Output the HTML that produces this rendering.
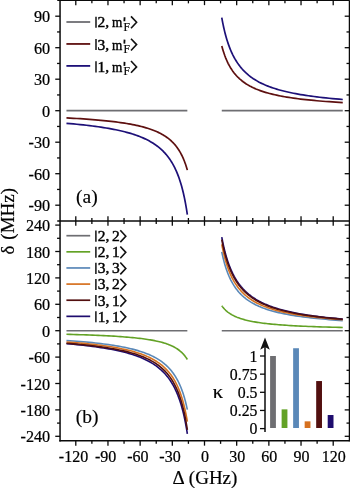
<!DOCTYPE html>
<html><head><meta charset="utf-8"><title>chart</title>
<style>html,body{margin:0;padding:0;background:#fff;}body{width:350px;height:488px;overflow:hidden;font-family:"Liberation Serif",serif;}svg{will-change:transform;}</style>
</head><body>
<svg width="350" height="488" viewBox="0 0 350 488" style="display:block">
<rect width="350" height="488" fill="#fff"/>
<path d="M66.46,110.70 L187.34,110.70 M221.77,110.70 L342.76,110.70" stroke="#6e6e72" stroke-width="1.70" fill="none"/>
<path d="M66.46,117.90 L70.01,118.09 L73.47,118.29 L76.84,118.49 L80.12,118.70 L83.32,118.91 L86.44,119.13 L89.48,119.35 L92.43,119.58 L95.32,119.82 L98.13,120.06 L100.86,120.31 L103.53,120.56 L106.13,120.82 L108.66,121.09 L111.12,121.37 L113.52,121.65 L115.86,121.94 L118.14,122.24 L120.37,122.55 L122.53,122.86 L124.64,123.18 L126.69,123.51 L128.70,123.86 L130.65,124.21 L132.55,124.56 L134.40,124.93 L136.20,125.31 L137.96,125.70 L139.67,126.10 L141.34,126.51 L142.96,126.93 L144.54,127.36 L146.09,127.81 L147.59,128.26 L149.05,128.73 L150.48,129.21 L151.87,129.70 L153.22,130.21 L154.54,130.73 L155.83,131.26 L157.08,131.81 L158.30,132.38 L159.49,132.95 L160.65,133.55 L161.77,134.16 L162.87,134.79 L163.94,135.43 L164.99,136.09 L166.00,136.77 L166.99,137.47 L167.96,138.18 L168.90,138.92 L169.81,139.67 L170.71,140.45 L171.58,141.25 L172.42,142.07 L173.25,142.91 L174.05,143.77 L174.84,144.66 L175.60,145.57 L176.34,146.51 L177.07,147.47 L177.77,148.46 L178.46,149.48 L179.13,150.52 L179.78,151.59 L180.42,152.70 L181.04,153.83 L181.64,154.99 L182.23,156.19 L182.80,157.42 L183.36,158.68 L183.90,159.98 L184.43,161.31 L184.95,162.68 L185.45,164.09 L185.94,165.54 L186.42,167.03 L186.89,168.56 L187.34,170.13" fill="none" stroke="#5e1010" stroke-width="1.70" stroke-linecap="butt" stroke-linejoin="round"/>
<path d="M221.77,45.91 L222.22,47.58 L222.69,49.20 L223.17,50.77 L223.66,52.31 L224.17,53.81 L224.68,55.27 L225.22,56.69 L225.76,58.08 L226.32,59.43 L226.90,60.74 L227.49,62.02 L228.09,63.27 L228.71,64.49 L229.35,65.68 L230.01,66.83 L230.68,67.96 L231.37,69.05 L232.08,70.12 L232.80,71.16 L233.55,72.18 L234.31,73.17 L235.10,74.13 L235.91,75.07 L236.73,75.98 L237.58,76.87 L238.45,77.74 L239.35,78.59 L240.27,79.41 L241.21,80.21 L242.17,81.00 L243.17,81.76 L244.19,82.50 L245.23,83.22 L246.30,83.93 L247.41,84.62 L248.54,85.29 L249.70,85.94 L250.89,86.57 L252.11,87.19 L253.36,87.80 L254.65,88.38 L255.97,88.96 L257.33,89.51 L258.72,90.06 L260.15,90.59 L261.61,91.10 L263.12,91.61 L264.66,92.10 L266.25,92.57 L267.87,93.04 L269.54,93.49 L271.26,93.93 L273.01,94.36 L274.82,94.78 L276.67,95.19 L278.57,95.59 L280.52,95.98 L282.53,96.36 L284.58,96.72 L286.69,97.08 L288.86,97.43 L291.08,97.77 L293.36,98.10 L295.70,98.43 L298.10,98.74 L300.57,99.05 L303.10,99.35 L305.70,99.64 L308.37,99.92 L311.10,100.20 L313.91,100.47 L316.79,100.73 L319.75,100.99 L322.79,101.24 L325.90,101.48 L329.10,101.72 L332.38,101.95 L335.75,102.17 L339.21,102.39 L342.76,102.60" fill="none" stroke="#5e1010" stroke-width="1.70" stroke-linecap="butt" stroke-linejoin="round"/>
<path d="M66.46,123.30 L70.01,123.60 L73.47,123.92 L76.84,124.24 L80.12,124.57 L83.32,124.91 L86.44,125.25 L89.48,125.61 L92.43,125.98 L95.32,126.36 L98.13,126.74 L100.86,127.14 L103.53,127.55 L106.13,127.97 L108.66,128.40 L111.12,128.85 L113.52,129.30 L115.86,129.77 L118.14,130.26 L120.37,130.75 L122.53,131.26 L124.64,131.78 L126.69,132.32 L128.70,132.87 L130.65,133.44 L132.55,134.03 L134.40,134.63 L136.20,135.25 L137.96,135.88 L139.67,136.53 L141.34,137.21 L142.96,137.90 L144.54,138.61 L146.09,139.34 L147.59,140.09 L149.05,140.86 L150.48,141.65 L151.87,142.47 L153.22,143.31 L154.54,144.18 L155.83,145.07 L157.08,145.98 L158.30,146.92 L159.49,147.89 L160.65,148.89 L161.77,149.92 L162.87,150.97 L163.94,152.06 L164.99,153.18 L166.00,154.33 L166.99,155.52 L167.96,156.74 L168.90,158.00 L169.81,159.30 L170.71,160.63 L171.58,162.00 L172.42,163.42 L173.25,164.88 L174.05,166.38 L174.84,167.93 L175.60,169.53 L176.34,171.17 L177.07,172.87 L177.77,174.62 L178.46,176.42 L179.13,178.28 L179.78,180.20 L180.42,182.18 L181.04,184.22 L181.64,186.32 L182.23,188.50 L182.80,190.74 L183.36,193.06 L183.90,195.45 L184.43,197.91 L184.95,200.46 L185.45,203.10 L185.94,205.82 L186.42,208.63 L186.89,211.54 L187.34,214.55" fill="none" stroke="#1d1078" stroke-width="1.70" stroke-linecap="butt" stroke-linejoin="round"/>
<path d="M221.77,17.67 L222.22,20.16 L222.69,22.57 L223.17,24.92 L223.66,27.21 L224.17,29.43 L224.68,31.59 L225.22,33.70 L225.76,35.74 L226.32,37.73 L226.90,39.66 L227.49,41.54 L228.09,43.37 L228.71,45.15 L229.35,46.88 L230.01,48.57 L230.68,50.21 L231.37,51.80 L232.08,53.35 L232.80,54.86 L233.55,56.33 L234.31,57.76 L235.10,59.15 L235.91,60.50 L236.73,61.82 L237.58,63.10 L238.45,64.35 L239.35,65.56 L240.27,66.75 L241.21,67.90 L242.17,69.02 L243.17,70.11 L244.19,71.17 L245.23,72.20 L246.30,73.20 L247.41,74.18 L248.54,75.14 L249.70,76.06 L250.89,76.97 L252.11,77.84 L253.36,78.70 L254.65,79.53 L255.97,80.34 L257.33,81.13 L258.72,81.90 L260.15,82.65 L261.61,83.38 L263.12,84.09 L264.66,84.78 L266.25,85.45 L267.87,86.11 L269.54,86.75 L271.26,87.37 L273.01,87.97 L274.82,88.56 L276.67,89.14 L278.57,89.70 L280.52,90.24 L282.53,90.77 L284.58,91.29 L286.69,91.79 L288.86,92.28 L291.08,92.75 L293.36,93.22 L295.70,93.67 L298.10,94.11 L300.57,94.54 L303.10,94.96 L305.70,95.37 L308.37,95.76 L311.10,96.15 L313.91,96.52 L316.79,96.89 L319.75,97.25 L322.79,97.59 L325.90,97.93 L329.10,98.26 L332.38,98.58 L335.75,98.90 L339.21,99.20 L342.76,99.50" fill="none" stroke="#1d1078" stroke-width="1.70" stroke-linecap="butt" stroke-linejoin="round"/>
<path d="M66.46,330.70 L187.34,330.70 M221.77,330.70 L342.76,330.70" stroke="#6e6e72" stroke-width="1.60" fill="none"/>
<path d="M66.46,334.31 L70.01,334.40 L73.47,334.50 L76.84,334.60 L80.12,334.70 L83.32,334.81 L86.44,334.92 L89.48,335.03 L92.43,335.14 L95.32,335.26 L98.13,335.38 L100.86,335.50 L103.53,335.63 L106.13,335.76 L108.66,335.89 L111.12,336.03 L113.52,336.17 L115.86,336.32 L118.14,336.46 L120.37,336.62 L122.53,336.77 L124.64,336.93 L126.69,337.10 L128.70,337.26 L130.65,337.44 L132.55,337.62 L134.40,337.80 L136.20,337.98 L137.96,338.18 L139.67,338.37 L141.34,338.58 L142.96,338.78 L144.54,339.00 L146.09,339.21 L147.59,339.44 L149.05,339.67 L150.48,339.91 L151.87,340.15 L153.22,340.40 L154.54,340.65 L155.83,340.91 L157.08,341.18 L158.30,341.46 L159.49,341.74 L160.65,342.03 L161.77,342.33 L162.87,342.64 L163.94,342.95 L164.99,343.27 L166.00,343.60 L166.99,343.94 L167.96,344.29 L168.90,344.65 L169.81,345.02 L170.71,345.39 L171.58,345.78 L172.42,346.18 L173.25,346.58 L174.05,347.00 L174.84,347.43 L175.60,347.87 L176.34,348.32 L177.07,348.78 L177.77,349.26 L178.46,349.74 L179.13,350.25 L179.78,350.76 L180.42,351.28 L181.04,351.83 L181.64,352.38 L182.23,352.95 L182.80,353.53 L183.36,354.13 L183.90,354.75 L184.43,355.38 L184.95,356.02 L185.45,356.69 L185.94,357.37 L186.42,358.07 L186.89,358.78 L187.34,359.52" fill="none" stroke="#63a226" stroke-width="1.60" stroke-linecap="butt" stroke-linejoin="round"/>
<path d="M221.77,305.75 L222.22,306.37 L222.69,306.98 L223.17,307.56 L223.66,308.14 L224.17,308.70 L224.68,309.25 L225.22,309.78 L225.76,310.31 L226.32,310.82 L226.90,311.31 L227.49,311.80 L228.09,312.27 L228.71,312.73 L229.35,313.18 L230.01,313.62 L230.68,314.05 L231.37,314.47 L232.08,314.88 L232.80,315.27 L233.55,315.66 L234.31,316.04 L235.10,316.41 L235.91,316.77 L236.73,317.12 L237.58,317.46 L238.45,317.79 L239.35,318.12 L240.27,318.44 L241.21,318.75 L242.17,319.05 L243.17,319.34 L244.19,319.63 L245.23,319.91 L246.30,320.18 L247.41,320.45 L248.54,320.71 L249.70,320.96 L250.89,321.21 L252.11,321.45 L253.36,321.68 L254.65,321.91 L255.97,322.14 L257.33,322.35 L258.72,322.56 L260.15,322.77 L261.61,322.97 L263.12,323.17 L264.66,323.36 L266.25,323.55 L267.87,323.73 L269.54,323.91 L271.26,324.08 L273.01,324.25 L274.82,324.41 L276.67,324.57 L278.57,324.73 L280.52,324.88 L282.53,325.03 L284.58,325.17 L286.69,325.31 L288.86,325.45 L291.08,325.58 L293.36,325.71 L295.70,325.84 L298.10,325.97 L300.57,326.09 L303.10,326.20 L305.70,326.32 L308.37,326.43 L311.10,326.54 L313.91,326.65 L316.79,326.75 L319.75,326.85 L322.79,326.95 L325.90,327.04 L329.10,327.14 L332.38,327.23 L335.75,327.32 L339.21,327.40 L342.76,327.49" fill="none" stroke="#63a226" stroke-width="1.60" stroke-linecap="butt" stroke-linejoin="round"/>
<path d="M66.46,340.47 L70.01,340.72 L73.47,340.97 L76.84,341.23 L80.12,341.50 L83.32,341.78 L86.44,342.06 L89.48,342.35 L92.43,342.65 L95.32,342.96 L98.13,343.27 L100.86,343.59 L103.53,343.93 L106.13,344.27 L108.66,344.62 L111.12,344.98 L113.52,345.34 L115.86,345.72 L118.14,346.11 L120.37,346.51 L122.53,346.92 L124.64,347.34 L126.69,347.78 L128.70,348.22 L130.65,348.68 L132.55,349.15 L134.40,349.63 L136.20,350.12 L137.96,350.63 L139.67,351.15 L141.34,351.69 L142.96,352.24 L144.54,352.81 L146.09,353.39 L147.59,353.98 L149.05,354.60 L150.48,355.22 L151.87,355.87 L153.22,356.54 L154.54,357.22 L155.83,357.92 L157.08,358.64 L158.30,359.38 L159.49,360.14 L160.65,360.92 L161.77,361.72 L162.87,362.55 L163.94,363.40 L164.99,364.27 L166.00,365.16 L166.99,366.08 L167.96,367.03 L168.90,368.00 L169.81,368.99 L170.71,370.02 L171.58,371.07 L172.42,372.16 L173.25,373.27 L174.05,374.42 L174.84,375.59 L175.60,376.80 L176.34,378.05 L177.07,379.32 L177.77,380.64 L178.46,381.99 L179.13,383.38 L179.78,384.81 L180.42,386.28 L181.04,387.79 L181.64,389.34 L182.23,390.94 L182.80,392.59 L183.36,394.28 L183.90,396.02 L184.43,397.80 L184.95,399.65 L185.45,401.54 L185.94,403.49 L186.42,405.49 L186.89,407.56 L187.34,409.68" fill="none" stroke="#5a88b8" stroke-width="1.60" stroke-linecap="butt" stroke-linejoin="round"/>
<path d="M221.77,251.94 L222.22,254.10 L222.69,256.19 L223.17,258.21 L223.66,260.18 L224.17,262.10 L224.68,263.95 L225.22,265.75 L225.76,267.50 L226.32,269.20 L226.90,270.85 L227.49,272.45 L228.09,274.00 L228.71,275.51 L229.35,276.98 L230.01,278.40 L230.68,279.79 L231.37,281.13 L232.08,282.44 L232.80,283.71 L233.55,284.95 L234.31,286.15 L235.10,287.31 L235.91,288.45 L236.73,289.55 L237.58,290.62 L238.45,291.66 L239.35,292.68 L240.27,293.66 L241.21,294.62 L242.17,295.55 L243.17,296.46 L244.19,297.34 L245.23,298.19 L246.30,299.03 L247.41,299.84 L248.54,300.63 L249.70,301.39 L250.89,302.14 L252.11,302.86 L253.36,303.57 L254.65,304.26 L255.97,304.93 L257.33,305.58 L258.72,306.21 L260.15,306.82 L261.61,307.42 L263.12,308.01 L264.66,308.57 L266.25,309.13 L267.87,309.66 L269.54,310.19 L271.26,310.70 L273.01,311.19 L274.82,311.67 L276.67,312.14 L278.57,312.60 L280.52,313.04 L282.53,313.48 L284.58,313.90 L286.69,314.31 L288.86,314.71 L291.08,315.10 L293.36,315.48 L295.70,315.84 L298.10,316.20 L300.57,316.55 L303.10,316.89 L305.70,317.22 L308.37,317.55 L311.10,317.86 L313.91,318.17 L316.79,318.46 L319.75,318.75 L322.79,319.04 L325.90,319.31 L329.10,319.58 L332.38,319.84 L335.75,320.09 L339.21,320.34 L342.76,320.58" fill="none" stroke="#5a88b8" stroke-width="1.60" stroke-linecap="butt" stroke-linejoin="round"/>
<path d="M66.46,341.96 L70.01,342.23 L73.47,342.50 L76.84,342.78 L80.12,343.07 L83.32,343.37 L86.44,343.67 L89.48,343.98 L92.43,344.31 L95.32,344.64 L98.13,344.97 L100.86,345.32 L103.53,345.68 L106.13,346.05 L108.66,346.43 L111.12,346.81 L113.52,347.21 L115.86,347.62 L118.14,348.05 L120.37,348.48 L122.53,348.92 L124.64,349.38 L126.69,349.85 L128.70,350.34 L130.65,350.83 L132.55,351.34 L134.40,351.87 L136.20,352.41 L137.96,352.96 L139.67,353.53 L141.34,354.12 L142.96,354.72 L144.54,355.34 L146.09,355.98 L147.59,356.64 L149.05,357.31 L150.48,358.01 L151.87,358.72 L153.22,359.46 L154.54,360.21 L155.83,360.99 L157.08,361.79 L158.30,362.61 L159.49,363.46 L160.65,364.33 L161.77,365.22 L162.87,366.15 L163.94,367.10 L164.99,368.07 L166.00,369.08 L166.99,370.12 L167.96,371.18 L168.90,372.28 L169.81,373.41 L170.71,374.58 L171.58,375.78 L172.42,377.01 L173.25,378.29 L174.05,379.60 L174.84,380.95 L175.60,382.34 L176.34,383.78 L177.07,385.26 L177.77,386.78 L178.46,388.35 L179.13,389.97 L179.78,391.65 L180.42,393.37 L181.04,395.15 L181.64,396.98 L182.23,398.88 L182.80,400.83 L183.36,402.85 L183.90,404.93 L184.43,407.08 L184.95,409.30 L185.45,411.60 L185.94,413.97 L186.42,416.41 L186.89,418.94 L187.34,421.56" fill="none" stroke="#d6711f" stroke-width="1.60" stroke-linecap="butt" stroke-linejoin="round"/>
<path d="M221.77,244.28 L222.22,246.65 L222.69,248.94 L223.17,251.17 L223.66,253.33 L224.17,255.43 L224.68,257.47 L225.22,259.44 L225.76,261.36 L226.32,263.23 L226.90,265.04 L227.49,266.80 L228.09,268.50 L228.71,270.16 L229.35,271.77 L230.01,273.34 L230.68,274.86 L231.37,276.34 L232.08,277.78 L232.80,279.17 L233.55,280.53 L234.31,281.85 L235.10,283.13 L235.91,284.37 L236.73,285.58 L237.58,286.76 L238.45,287.91 L239.35,289.02 L240.27,290.10 L241.21,291.16 L242.17,292.18 L243.17,293.17 L244.19,294.14 L245.23,295.08 L246.30,296.00 L247.41,296.89 L248.54,297.76 L249.70,298.60 L250.89,299.42 L252.11,300.22 L253.36,300.99 L254.65,301.75 L255.97,302.48 L257.33,303.20 L258.72,303.89 L260.15,304.57 L261.61,305.23 L263.12,305.87 L264.66,306.50 L266.25,307.10 L267.87,307.69 L269.54,308.27 L271.26,308.83 L273.01,309.37 L274.82,309.90 L276.67,310.42 L278.57,310.92 L280.52,311.41 L282.53,311.89 L284.58,312.35 L286.69,312.80 L288.86,313.24 L291.08,313.67 L293.36,314.09 L295.70,314.49 L298.10,314.89 L300.57,315.27 L303.10,315.64 L305.70,316.01 L308.37,316.36 L311.10,316.71 L313.91,317.04 L316.79,317.37 L319.75,317.69 L322.79,318.00 L325.90,318.30 L329.10,318.60 L332.38,318.88 L335.75,319.16 L339.21,319.44 L342.76,319.70" fill="none" stroke="#d6711f" stroke-width="1.60" stroke-linecap="butt" stroke-linejoin="round"/>
<path d="M66.46,343.68 L70.01,343.99 L73.47,344.31 L76.84,344.63 L80.12,344.97 L83.32,345.31 L86.44,345.67 L89.48,346.03 L92.43,346.40 L95.32,346.79 L98.13,347.18 L100.86,347.59 L103.53,348.00 L106.13,348.43 L108.66,348.87 L111.12,349.32 L113.52,349.78 L115.86,350.26 L118.14,350.75 L120.37,351.25 L122.53,351.76 L124.64,352.29 L126.69,352.84 L128.70,353.40 L130.65,353.97 L132.55,354.57 L134.40,355.17 L136.20,355.80 L137.96,356.44 L139.67,357.10 L141.34,357.78 L142.96,358.47 L144.54,359.19 L146.09,359.92 L147.59,360.68 L149.05,361.46 L150.48,362.26 L151.87,363.08 L153.22,363.92 L154.54,364.79 L155.83,365.69 L157.08,366.61 L158.30,367.55 L159.49,368.52 L160.65,369.52 L161.77,370.55 L162.87,371.60 L163.94,372.69 L164.99,373.81 L166.00,374.96 L166.99,376.14 L167.96,377.36 L168.90,378.61 L169.81,379.90 L170.71,381.23 L171.58,382.60 L172.42,384.00 L173.25,385.45 L174.05,386.94 L174.84,388.47 L175.60,390.05 L176.34,391.67 L177.07,393.34 L177.77,395.07 L178.46,396.84 L179.13,398.67 L179.78,400.55 L180.42,402.49 L181.04,404.49 L181.64,406.55 L182.23,408.67 L182.80,410.86 L183.36,413.11 L183.90,415.44 L184.43,417.83 L184.95,420.31 L185.45,422.85 L185.94,425.48 L186.42,428.19 L186.89,430.99 L187.34,433.88" fill="none" stroke="#1e0c6e" stroke-width="1.60" stroke-linecap="butt" stroke-linejoin="round"/>
<path d="M221.77,237.11 L222.22,239.52 L222.69,241.87 L223.17,244.15 L223.66,246.38 L224.17,248.55 L224.68,250.66 L225.22,252.72 L225.76,254.73 L226.32,256.68 L226.90,258.59 L227.49,260.44 L228.09,262.25 L228.71,264.01 L229.35,265.73 L230.01,267.40 L230.68,269.03 L231.37,270.61 L232.08,272.16 L232.80,273.66 L233.55,275.13 L234.31,276.56 L235.10,277.95 L235.91,279.30 L236.73,280.63 L237.58,281.91 L238.45,283.17 L239.35,284.39 L240.27,285.58 L241.21,286.74 L242.17,287.87 L243.17,288.97 L244.19,290.04 L245.23,291.09 L246.30,292.11 L247.41,293.10 L248.54,294.06 L249.70,295.00 L250.89,295.92 L252.11,296.82 L253.36,297.69 L254.65,298.53 L255.97,299.36 L257.33,300.17 L258.72,300.95 L260.15,301.71 L261.61,302.46 L263.12,303.18 L264.66,303.89 L266.25,304.58 L267.87,305.25 L269.54,305.90 L271.26,306.54 L273.01,307.16 L274.82,307.77 L276.67,308.36 L278.57,308.93 L280.52,309.49 L282.53,310.03 L284.58,310.56 L286.69,311.08 L288.86,311.59 L291.08,312.08 L293.36,312.55 L295.70,313.02 L298.10,313.47 L300.57,313.92 L303.10,314.35 L305.70,314.77 L308.37,315.18 L311.10,315.58 L313.91,315.96 L316.79,316.34 L319.75,316.71 L322.79,317.07 L325.90,317.42 L329.10,317.76 L332.38,318.09 L335.75,318.42 L339.21,318.73 L342.76,319.04" fill="none" stroke="#1e0c6e" stroke-width="1.60" stroke-linecap="butt" stroke-linejoin="round"/>
<path d="M66.46,343.28 L70.01,343.56 L73.47,343.85 L76.84,344.15 L80.12,344.45 L83.32,344.77 L86.44,345.09 L89.48,345.42 L92.43,345.76 L95.32,346.11 L98.13,346.47 L100.86,346.84 L103.53,347.22 L106.13,347.61 L108.66,348.01 L111.12,348.42 L113.52,348.84 L115.86,349.28 L118.14,349.72 L120.37,350.18 L122.53,350.65 L124.64,351.14 L126.69,351.64 L128.70,352.15 L130.65,352.68 L132.55,353.23 L134.40,353.78 L136.20,354.36 L137.96,354.95 L139.67,355.56 L141.34,356.18 L142.96,356.83 L144.54,357.49 L146.09,358.17 L147.59,358.87 L149.05,359.59 L150.48,360.33 L151.87,361.10 L153.22,361.88 L154.54,362.69 L155.83,363.52 L157.08,364.38 L158.30,365.26 L159.49,366.17 L160.65,367.10 L161.77,368.07 L162.87,369.06 L163.94,370.08 L164.99,371.13 L166.00,372.22 L166.99,373.33 L167.96,374.49 L168.90,375.67 L169.81,376.89 L170.71,378.15 L171.58,379.45 L172.42,380.79 L173.25,382.17 L174.05,383.60 L174.84,385.07 L175.60,386.58 L176.34,388.15 L177.07,389.76 L177.77,391.42 L178.46,393.14 L179.13,394.92 L179.78,396.75 L180.42,398.64 L181.04,400.59 L181.64,402.61 L182.23,404.70 L182.80,406.86 L183.36,409.08 L183.90,411.39 L184.43,413.77 L184.95,416.24 L185.45,418.79 L185.94,421.43 L186.42,424.16 L186.89,426.99 L187.34,429.92" fill="none" stroke="#520f0f" stroke-width="1.60" stroke-linecap="butt" stroke-linejoin="round"/>
<path d="M221.77,239.62 L222.22,241.97 L222.69,244.26 L223.17,246.50 L223.66,248.67 L224.17,250.79 L224.68,252.85 L225.22,254.86 L225.76,256.81 L226.32,258.72 L226.90,260.57 L227.49,262.38 L228.09,264.14 L228.71,265.85 L229.35,267.52 L230.01,269.15 L230.68,270.73 L231.37,272.28 L232.08,273.78 L232.80,275.24 L233.55,276.67 L234.31,278.06 L235.10,279.41 L235.91,280.73 L236.73,282.02 L237.58,283.27 L238.45,284.48 L239.35,285.67 L240.27,286.83 L241.21,287.95 L242.17,289.05 L243.17,290.12 L244.19,291.16 L245.23,292.17 L246.30,293.16 L247.41,294.12 L248.54,295.06 L249.70,295.98 L250.89,296.87 L252.11,297.73 L253.36,298.58 L254.65,299.40 L255.97,300.20 L257.33,300.98 L258.72,301.74 L260.15,302.48 L261.61,303.20 L263.12,303.91 L264.66,304.59 L266.25,305.26 L267.87,305.91 L269.54,306.54 L271.26,307.16 L273.01,307.76 L274.82,308.35 L276.67,308.92 L278.57,309.47 L280.52,310.02 L282.53,310.54 L284.58,311.06 L286.69,311.56 L288.86,312.05 L291.08,312.52 L293.36,312.98 L295.70,313.44 L298.10,313.87 L300.57,314.30 L303.10,314.72 L305.70,315.13 L308.37,315.52 L311.10,315.91 L313.91,316.28 L316.79,316.65 L319.75,317.01 L322.79,317.35 L325.90,317.69 L329.10,318.02 L332.38,318.34 L335.75,318.66 L339.21,318.96 L342.76,319.26" fill="none" stroke="#520f0f" stroke-width="1.60" stroke-linecap="butt" stroke-linejoin="round"/>
<line x1="60.05" y1="0.35" x2="60.05" y2="441.60" stroke="#0a0a0a" stroke-width="1.50"/>
<line x1="349.50" y1="0.35" x2="349.50" y2="441.60" stroke="#0a0a0a" stroke-width="1.50"/>
<line x1="57.25" y1="0.35" x2="349.50" y2="0.35" stroke="#0a0a0a" stroke-width="1.50"/>
<line x1="57.25" y1="221.00" x2="349.50" y2="221.00" stroke="#0a0a0a" stroke-width="1.50"/>
<line x1="59.30" y1="440.85" x2="349.50" y2="440.85" stroke="#0a0a0a" stroke-width="1.50"/>
<line x1="75.79" y1="0.35" x2="75.79" y2="5.15" stroke="#0a0a0a" stroke-width="1.30"/>
<line x1="75.79" y1="216.20" x2="75.79" y2="225.80" stroke="#0a0a0a" stroke-width="1.30"/>
<line x1="75.79" y1="440.85" x2="75.79" y2="445.65" stroke="#0a0a0a" stroke-width="1.30"/>
<line x1="91.88" y1="0.35" x2="91.88" y2="3.35" stroke="#0a0a0a" stroke-width="1.30"/>
<line x1="91.88" y1="218.00" x2="91.88" y2="224.00" stroke="#0a0a0a" stroke-width="1.30"/>
<line x1="91.88" y1="440.85" x2="91.88" y2="443.85" stroke="#0a0a0a" stroke-width="1.30"/>
<line x1="107.97" y1="0.35" x2="107.97" y2="5.15" stroke="#0a0a0a" stroke-width="1.30"/>
<line x1="107.97" y1="216.20" x2="107.97" y2="225.80" stroke="#0a0a0a" stroke-width="1.30"/>
<line x1="107.97" y1="440.85" x2="107.97" y2="445.65" stroke="#0a0a0a" stroke-width="1.30"/>
<line x1="124.06" y1="0.35" x2="124.06" y2="3.35" stroke="#0a0a0a" stroke-width="1.30"/>
<line x1="124.06" y1="218.00" x2="124.06" y2="224.00" stroke="#0a0a0a" stroke-width="1.30"/>
<line x1="124.06" y1="440.85" x2="124.06" y2="443.85" stroke="#0a0a0a" stroke-width="1.30"/>
<line x1="140.14" y1="0.35" x2="140.14" y2="5.15" stroke="#0a0a0a" stroke-width="1.30"/>
<line x1="140.14" y1="216.20" x2="140.14" y2="225.80" stroke="#0a0a0a" stroke-width="1.30"/>
<line x1="140.14" y1="440.85" x2="140.14" y2="445.65" stroke="#0a0a0a" stroke-width="1.30"/>
<line x1="156.23" y1="0.35" x2="156.23" y2="3.35" stroke="#0a0a0a" stroke-width="1.30"/>
<line x1="156.23" y1="218.00" x2="156.23" y2="224.00" stroke="#0a0a0a" stroke-width="1.30"/>
<line x1="156.23" y1="440.85" x2="156.23" y2="443.85" stroke="#0a0a0a" stroke-width="1.30"/>
<line x1="172.32" y1="0.35" x2="172.32" y2="5.15" stroke="#0a0a0a" stroke-width="1.30"/>
<line x1="172.32" y1="216.20" x2="172.32" y2="225.80" stroke="#0a0a0a" stroke-width="1.30"/>
<line x1="172.32" y1="440.85" x2="172.32" y2="445.65" stroke="#0a0a0a" stroke-width="1.30"/>
<line x1="188.41" y1="0.35" x2="188.41" y2="3.35" stroke="#0a0a0a" stroke-width="1.30"/>
<line x1="188.41" y1="218.00" x2="188.41" y2="224.00" stroke="#0a0a0a" stroke-width="1.30"/>
<line x1="188.41" y1="440.85" x2="188.41" y2="443.85" stroke="#0a0a0a" stroke-width="1.30"/>
<line x1="204.50" y1="0.35" x2="204.50" y2="5.15" stroke="#0a0a0a" stroke-width="1.30"/>
<line x1="204.50" y1="216.20" x2="204.50" y2="225.80" stroke="#0a0a0a" stroke-width="1.30"/>
<line x1="204.50" y1="440.85" x2="204.50" y2="445.65" stroke="#0a0a0a" stroke-width="1.30"/>
<line x1="220.59" y1="0.35" x2="220.59" y2="3.35" stroke="#0a0a0a" stroke-width="1.30"/>
<line x1="220.59" y1="218.00" x2="220.59" y2="224.00" stroke="#0a0a0a" stroke-width="1.30"/>
<line x1="220.59" y1="440.85" x2="220.59" y2="443.85" stroke="#0a0a0a" stroke-width="1.30"/>
<line x1="236.68" y1="0.35" x2="236.68" y2="5.15" stroke="#0a0a0a" stroke-width="1.30"/>
<line x1="236.68" y1="216.20" x2="236.68" y2="225.80" stroke="#0a0a0a" stroke-width="1.30"/>
<line x1="236.68" y1="440.85" x2="236.68" y2="445.65" stroke="#0a0a0a" stroke-width="1.30"/>
<line x1="252.77" y1="0.35" x2="252.77" y2="3.35" stroke="#0a0a0a" stroke-width="1.30"/>
<line x1="252.77" y1="218.00" x2="252.77" y2="224.00" stroke="#0a0a0a" stroke-width="1.30"/>
<line x1="252.77" y1="440.85" x2="252.77" y2="443.85" stroke="#0a0a0a" stroke-width="1.30"/>
<line x1="268.86" y1="0.35" x2="268.86" y2="5.15" stroke="#0a0a0a" stroke-width="1.30"/>
<line x1="268.86" y1="216.20" x2="268.86" y2="225.80" stroke="#0a0a0a" stroke-width="1.30"/>
<line x1="268.86" y1="440.85" x2="268.86" y2="445.65" stroke="#0a0a0a" stroke-width="1.30"/>
<line x1="284.94" y1="0.35" x2="284.94" y2="3.35" stroke="#0a0a0a" stroke-width="1.30"/>
<line x1="284.94" y1="218.00" x2="284.94" y2="224.00" stroke="#0a0a0a" stroke-width="1.30"/>
<line x1="284.94" y1="440.85" x2="284.94" y2="443.85" stroke="#0a0a0a" stroke-width="1.30"/>
<line x1="301.03" y1="0.35" x2="301.03" y2="5.15" stroke="#0a0a0a" stroke-width="1.30"/>
<line x1="301.03" y1="216.20" x2="301.03" y2="225.80" stroke="#0a0a0a" stroke-width="1.30"/>
<line x1="301.03" y1="440.85" x2="301.03" y2="445.65" stroke="#0a0a0a" stroke-width="1.30"/>
<line x1="317.12" y1="0.35" x2="317.12" y2="3.35" stroke="#0a0a0a" stroke-width="1.30"/>
<line x1="317.12" y1="218.00" x2="317.12" y2="224.00" stroke="#0a0a0a" stroke-width="1.30"/>
<line x1="317.12" y1="440.85" x2="317.12" y2="443.85" stroke="#0a0a0a" stroke-width="1.30"/>
<line x1="333.21" y1="0.35" x2="333.21" y2="5.15" stroke="#0a0a0a" stroke-width="1.30"/>
<line x1="333.21" y1="216.20" x2="333.21" y2="225.80" stroke="#0a0a0a" stroke-width="1.30"/>
<line x1="333.21" y1="440.85" x2="333.21" y2="445.65" stroke="#0a0a0a" stroke-width="1.30"/>
<line x1="55.25" y1="205.20" x2="60.05" y2="205.20" stroke="#0a0a0a" stroke-width="1.30"/>
<line x1="344.70" y1="205.20" x2="349.50" y2="205.20" stroke="#0a0a0a" stroke-width="1.30"/>
<line x1="57.05" y1="189.45" x2="60.05" y2="189.45" stroke="#0a0a0a" stroke-width="1.30"/>
<line x1="346.50" y1="189.45" x2="349.50" y2="189.45" stroke="#0a0a0a" stroke-width="1.30"/>
<line x1="55.25" y1="173.70" x2="60.05" y2="173.70" stroke="#0a0a0a" stroke-width="1.30"/>
<line x1="344.70" y1="173.70" x2="349.50" y2="173.70" stroke="#0a0a0a" stroke-width="1.30"/>
<line x1="57.05" y1="157.95" x2="60.05" y2="157.95" stroke="#0a0a0a" stroke-width="1.30"/>
<line x1="346.50" y1="157.95" x2="349.50" y2="157.95" stroke="#0a0a0a" stroke-width="1.30"/>
<line x1="55.25" y1="142.20" x2="60.05" y2="142.20" stroke="#0a0a0a" stroke-width="1.30"/>
<line x1="344.70" y1="142.20" x2="349.50" y2="142.20" stroke="#0a0a0a" stroke-width="1.30"/>
<line x1="57.05" y1="126.45" x2="60.05" y2="126.45" stroke="#0a0a0a" stroke-width="1.30"/>
<line x1="346.50" y1="126.45" x2="349.50" y2="126.45" stroke="#0a0a0a" stroke-width="1.30"/>
<line x1="55.25" y1="110.70" x2="60.05" y2="110.70" stroke="#0a0a0a" stroke-width="1.30"/>
<line x1="344.70" y1="110.70" x2="349.50" y2="110.70" stroke="#0a0a0a" stroke-width="1.30"/>
<line x1="57.05" y1="94.95" x2="60.05" y2="94.95" stroke="#0a0a0a" stroke-width="1.30"/>
<line x1="346.50" y1="94.95" x2="349.50" y2="94.95" stroke="#0a0a0a" stroke-width="1.30"/>
<line x1="55.25" y1="79.20" x2="60.05" y2="79.20" stroke="#0a0a0a" stroke-width="1.30"/>
<line x1="344.70" y1="79.20" x2="349.50" y2="79.20" stroke="#0a0a0a" stroke-width="1.30"/>
<line x1="57.05" y1="63.45" x2="60.05" y2="63.45" stroke="#0a0a0a" stroke-width="1.30"/>
<line x1="346.50" y1="63.45" x2="349.50" y2="63.45" stroke="#0a0a0a" stroke-width="1.30"/>
<line x1="55.25" y1="47.70" x2="60.05" y2="47.70" stroke="#0a0a0a" stroke-width="1.30"/>
<line x1="344.70" y1="47.70" x2="349.50" y2="47.70" stroke="#0a0a0a" stroke-width="1.30"/>
<line x1="57.05" y1="31.95" x2="60.05" y2="31.95" stroke="#0a0a0a" stroke-width="1.30"/>
<line x1="346.50" y1="31.95" x2="349.50" y2="31.95" stroke="#0a0a0a" stroke-width="1.30"/>
<line x1="55.25" y1="16.20" x2="60.05" y2="16.20" stroke="#0a0a0a" stroke-width="1.30"/>
<line x1="344.70" y1="16.20" x2="349.50" y2="16.20" stroke="#0a0a0a" stroke-width="1.30"/>
<line x1="55.25" y1="436.30" x2="60.05" y2="436.30" stroke="#0a0a0a" stroke-width="1.30"/>
<line x1="344.70" y1="436.30" x2="349.50" y2="436.30" stroke="#0a0a0a" stroke-width="1.30"/>
<line x1="57.05" y1="423.10" x2="60.05" y2="423.10" stroke="#0a0a0a" stroke-width="1.30"/>
<line x1="346.50" y1="423.10" x2="349.50" y2="423.10" stroke="#0a0a0a" stroke-width="1.30"/>
<line x1="55.25" y1="409.90" x2="60.05" y2="409.90" stroke="#0a0a0a" stroke-width="1.30"/>
<line x1="344.70" y1="409.90" x2="349.50" y2="409.90" stroke="#0a0a0a" stroke-width="1.30"/>
<line x1="57.05" y1="396.70" x2="60.05" y2="396.70" stroke="#0a0a0a" stroke-width="1.30"/>
<line x1="346.50" y1="396.70" x2="349.50" y2="396.70" stroke="#0a0a0a" stroke-width="1.30"/>
<line x1="55.25" y1="383.50" x2="60.05" y2="383.50" stroke="#0a0a0a" stroke-width="1.30"/>
<line x1="344.70" y1="383.50" x2="349.50" y2="383.50" stroke="#0a0a0a" stroke-width="1.30"/>
<line x1="57.05" y1="370.30" x2="60.05" y2="370.30" stroke="#0a0a0a" stroke-width="1.30"/>
<line x1="346.50" y1="370.30" x2="349.50" y2="370.30" stroke="#0a0a0a" stroke-width="1.30"/>
<line x1="55.25" y1="357.10" x2="60.05" y2="357.10" stroke="#0a0a0a" stroke-width="1.30"/>
<line x1="344.70" y1="357.10" x2="349.50" y2="357.10" stroke="#0a0a0a" stroke-width="1.30"/>
<line x1="57.05" y1="343.90" x2="60.05" y2="343.90" stroke="#0a0a0a" stroke-width="1.30"/>
<line x1="346.50" y1="343.90" x2="349.50" y2="343.90" stroke="#0a0a0a" stroke-width="1.30"/>
<line x1="55.25" y1="330.70" x2="60.05" y2="330.70" stroke="#0a0a0a" stroke-width="1.30"/>
<line x1="344.70" y1="330.70" x2="349.50" y2="330.70" stroke="#0a0a0a" stroke-width="1.30"/>
<line x1="57.05" y1="317.50" x2="60.05" y2="317.50" stroke="#0a0a0a" stroke-width="1.30"/>
<line x1="346.50" y1="317.50" x2="349.50" y2="317.50" stroke="#0a0a0a" stroke-width="1.30"/>
<line x1="55.25" y1="304.30" x2="60.05" y2="304.30" stroke="#0a0a0a" stroke-width="1.30"/>
<line x1="344.70" y1="304.30" x2="349.50" y2="304.30" stroke="#0a0a0a" stroke-width="1.30"/>
<line x1="57.05" y1="291.10" x2="60.05" y2="291.10" stroke="#0a0a0a" stroke-width="1.30"/>
<line x1="346.50" y1="291.10" x2="349.50" y2="291.10" stroke="#0a0a0a" stroke-width="1.30"/>
<line x1="55.25" y1="277.90" x2="60.05" y2="277.90" stroke="#0a0a0a" stroke-width="1.30"/>
<line x1="344.70" y1="277.90" x2="349.50" y2="277.90" stroke="#0a0a0a" stroke-width="1.30"/>
<line x1="57.05" y1="264.70" x2="60.05" y2="264.70" stroke="#0a0a0a" stroke-width="1.30"/>
<line x1="346.50" y1="264.70" x2="349.50" y2="264.70" stroke="#0a0a0a" stroke-width="1.30"/>
<line x1="55.25" y1="251.50" x2="60.05" y2="251.50" stroke="#0a0a0a" stroke-width="1.30"/>
<line x1="344.70" y1="251.50" x2="349.50" y2="251.50" stroke="#0a0a0a" stroke-width="1.30"/>
<line x1="57.05" y1="238.30" x2="60.05" y2="238.30" stroke="#0a0a0a" stroke-width="1.30"/>
<line x1="346.50" y1="238.30" x2="349.50" y2="238.30" stroke="#0a0a0a" stroke-width="1.30"/>
<line x1="55.25" y1="225.10" x2="60.05" y2="225.10" stroke="#0a0a0a" stroke-width="1.30"/>
<line x1="344.70" y1="225.10" x2="349.50" y2="225.10" stroke="#0a0a0a" stroke-width="1.30"/>
<text x="73.49" y="462.30" font-family='"Liberation Serif", serif' font-size="16.00" text-anchor="middle" fill="#000" stroke="#000" stroke-width="0.22" >-120</text>
<text x="105.67" y="462.30" font-family='"Liberation Serif", serif' font-size="16.00" text-anchor="middle" fill="#000" stroke="#000" stroke-width="0.22" >-90</text>
<text x="137.84" y="462.30" font-family='"Liberation Serif", serif' font-size="16.00" text-anchor="middle" fill="#000" stroke="#000" stroke-width="0.22" >-60</text>
<text x="170.02" y="462.30" font-family='"Liberation Serif", serif' font-size="16.00" text-anchor="middle" fill="#000" stroke="#000" stroke-width="0.22" >-30</text>
<text x="205.00" y="462.30" font-family='"Liberation Serif", serif' font-size="16.00" text-anchor="middle" fill="#000" stroke="#000" stroke-width="0.22" >0</text>
<text x="237.18" y="462.30" font-family='"Liberation Serif", serif' font-size="16.00" text-anchor="middle" fill="#000" stroke="#000" stroke-width="0.22" >30</text>
<text x="269.36" y="462.30" font-family='"Liberation Serif", serif' font-size="16.00" text-anchor="middle" fill="#000" stroke="#000" stroke-width="0.22" >60</text>
<text x="301.53" y="462.30" font-family='"Liberation Serif", serif' font-size="16.00" text-anchor="middle" fill="#000" stroke="#000" stroke-width="0.22" >90</text>
<text x="333.71" y="462.30" font-family='"Liberation Serif", serif' font-size="16.00" text-anchor="middle" fill="#000" stroke="#000" stroke-width="0.22" >120</text>
<text x="50.20" y="211.21" font-family='"Liberation Serif", serif' font-size="16.20" text-anchor="end" fill="#000" stroke="#000" stroke-width="0.22" >-90</text>
<text x="50.20" y="179.71" font-family='"Liberation Serif", serif' font-size="16.20" text-anchor="end" fill="#000" stroke="#000" stroke-width="0.22" >-60</text>
<text x="50.20" y="148.21" font-family='"Liberation Serif", serif' font-size="16.20" text-anchor="end" fill="#000" stroke="#000" stroke-width="0.22" >-30</text>
<text x="50.20" y="116.71" font-family='"Liberation Serif", serif' font-size="16.20" text-anchor="end" fill="#000" stroke="#000" stroke-width="0.22" >0</text>
<text x="50.20" y="85.21" font-family='"Liberation Serif", serif' font-size="16.20" text-anchor="end" fill="#000" stroke="#000" stroke-width="0.22" >30</text>
<text x="50.20" y="53.71" font-family='"Liberation Serif", serif' font-size="16.20" text-anchor="end" fill="#000" stroke="#000" stroke-width="0.22" >60</text>
<text x="50.20" y="22.21" font-family='"Liberation Serif", serif' font-size="16.20" text-anchor="end" fill="#000" stroke="#000" stroke-width="0.22" >90</text>
<text x="50.20" y="442.31" font-family='"Liberation Serif", serif' font-size="16.20" text-anchor="end" fill="#000" stroke="#000" stroke-width="0.22" >-240</text>
<text x="50.20" y="415.91" font-family='"Liberation Serif", serif' font-size="16.20" text-anchor="end" fill="#000" stroke="#000" stroke-width="0.22" >-180</text>
<text x="50.20" y="389.51" font-family='"Liberation Serif", serif' font-size="16.20" text-anchor="end" fill="#000" stroke="#000" stroke-width="0.22" >-120</text>
<text x="50.20" y="363.11" font-family='"Liberation Serif", serif' font-size="16.20" text-anchor="end" fill="#000" stroke="#000" stroke-width="0.22" >-60</text>
<text x="50.20" y="336.71" font-family='"Liberation Serif", serif' font-size="16.20" text-anchor="end" fill="#000" stroke="#000" stroke-width="0.22" >0</text>
<text x="50.20" y="310.31" font-family='"Liberation Serif", serif' font-size="16.20" text-anchor="end" fill="#000" stroke="#000" stroke-width="0.22" >60</text>
<text x="50.20" y="283.91" font-family='"Liberation Serif", serif' font-size="16.20" text-anchor="end" fill="#000" stroke="#000" stroke-width="0.22" >120</text>
<text x="50.20" y="257.51" font-family='"Liberation Serif", serif' font-size="16.20" text-anchor="end" fill="#000" stroke="#000" stroke-width="0.22" >180</text>
<text x="50.20" y="231.11" font-family='"Liberation Serif", serif' font-size="16.20" text-anchor="end" fill="#000" stroke="#000" stroke-width="0.22" >240</text>
<text x="204.90" y="484.30" font-family='"Liberation Serif", serif' font-size="19.00" text-anchor="middle" fill="#000" stroke="#000" stroke-width="0.20" word-spacing="0.5">&#916; (GHz)</text>
<text transform="translate(13.7,221.2) rotate(-90)" font-family='"Liberation Serif", serif' font-size="19" word-spacing="1" text-anchor="middle" fill="#000" stroke="#000" stroke-width="0.2">&#948; (MHz)</text>
<text x="86.90" y="203.20" font-family='"Liberation Serif", serif' font-size="19.50" text-anchor="middle" fill="#000" stroke="#000" stroke-width="0.15" >(a)</text>
<text x="87.20" y="423.10" font-family='"Liberation Serif", serif' font-size="19.50" text-anchor="middle" fill="#000" stroke="#000" stroke-width="0.15" >(b)</text>
<line x1="66.40" y1="22.00" x2="90.20" y2="22.00" stroke="#6e6e72" stroke-width="1.80"/>
<line x1="96.00" y1="16.70" x2="96.00" y2="27.80" stroke="#0a0a0a" stroke-width="1.45"/>
<text x="97.50" y="27.20" font-family='"Liberation Serif", serif' font-size="15.50" text-anchor="start" fill="#000" stroke="#000" stroke-width="0.45" >2,</text>
<text x="111.90" y="27.20" font-family='"Liberation Serif", serif' font-size="15.50" text-anchor="start" fill="#000" stroke="#000" stroke-width="0.45" textLength="10.3" lengthAdjust="spacingAndGlyphs">m</text>
<line x1="124.55" y1="17.30" x2="124.35" y2="21.30" stroke="#0a0a0a" stroke-width="1.80"/>
<text x="123.40" y="30.60" font-family='"Liberation Serif", serif' font-size="11.60" text-anchor="start" fill="#000" stroke="#000" stroke-width="0.20" >F</text>
<polyline points="131.00,16.40 136.60,22.30 131.00,28.20" fill="none" stroke="#111" stroke-width="1.60" stroke-linejoin="miter"/>
<line x1="66.40" y1="43.95" x2="90.20" y2="43.95" stroke="#5e1010" stroke-width="1.80"/>
<line x1="96.00" y1="39.00" x2="96.00" y2="50.10" stroke="#0a0a0a" stroke-width="1.45"/>
<text x="97.50" y="49.50" font-family='"Liberation Serif", serif' font-size="15.50" text-anchor="start" fill="#000" stroke="#000" stroke-width="0.45" >3,</text>
<text x="111.90" y="49.50" font-family='"Liberation Serif", serif' font-size="15.50" text-anchor="start" fill="#000" stroke="#000" stroke-width="0.45" textLength="10.3" lengthAdjust="spacingAndGlyphs">m</text>
<line x1="124.55" y1="39.60" x2="124.35" y2="43.60" stroke="#0a0a0a" stroke-width="1.80"/>
<text x="123.40" y="52.90" font-family='"Liberation Serif", serif' font-size="11.60" text-anchor="start" fill="#000" stroke="#000" stroke-width="0.20" >F</text>
<polyline points="131.00,38.70 136.60,44.60 131.00,50.50" fill="none" stroke="#111" stroke-width="1.60" stroke-linejoin="miter"/>
<line x1="66.40" y1="65.90" x2="90.20" y2="65.90" stroke="#1d1078" stroke-width="1.80"/>
<line x1="96.00" y1="61.30" x2="96.00" y2="72.40" stroke="#0a0a0a" stroke-width="1.45"/>
<text x="97.50" y="71.80" font-family='"Liberation Serif", serif' font-size="15.50" text-anchor="start" fill="#000" stroke="#000" stroke-width="0.45" >1,</text>
<text x="111.90" y="71.80" font-family='"Liberation Serif", serif' font-size="15.50" text-anchor="start" fill="#000" stroke="#000" stroke-width="0.45" textLength="10.3" lengthAdjust="spacingAndGlyphs">m</text>
<line x1="124.55" y1="61.90" x2="124.35" y2="65.90" stroke="#0a0a0a" stroke-width="1.80"/>
<text x="123.40" y="75.20" font-family='"Liberation Serif", serif' font-size="11.60" text-anchor="start" fill="#000" stroke="#000" stroke-width="0.20" >F</text>
<polyline points="131.00,61.00 136.60,66.90 131.00,72.80" fill="none" stroke="#111" stroke-width="1.60" stroke-linejoin="miter"/>
<line x1="66.40" y1="235.70" x2="90.20" y2="235.70" stroke="#6e6e72" stroke-width="1.70"/>
<line x1="95.90" y1="230.60" x2="95.90" y2="241.70" stroke="#0a0a0a" stroke-width="1.45"/>
<text x="97.80" y="241.10" font-family='"Liberation Serif", serif' font-size="15.50" text-anchor="start" fill="#000" stroke="#000" stroke-width="0.45" >2,</text>
<text x="112.00" y="241.10" font-family='"Liberation Serif", serif' font-size="15.50" text-anchor="start" fill="#000" stroke="#000" stroke-width="0.45" >2</text>
<polyline points="120.30,230.30 125.80,236.20 120.30,242.10" fill="none" stroke="#111" stroke-width="1.60" stroke-linejoin="miter"/>
<line x1="66.40" y1="251.83" x2="90.20" y2="251.83" stroke="#63a226" stroke-width="1.70"/>
<line x1="95.90" y1="246.73" x2="95.90" y2="257.83" stroke="#0a0a0a" stroke-width="1.45"/>
<text x="97.80" y="257.23" font-family='"Liberation Serif", serif' font-size="15.50" text-anchor="start" fill="#000" stroke="#000" stroke-width="0.45" >2,</text>
<text x="112.00" y="257.23" font-family='"Liberation Serif", serif' font-size="15.50" text-anchor="start" fill="#000" stroke="#000" stroke-width="0.45" >1</text>
<polyline points="120.30,246.43 125.80,252.33 120.30,258.23" fill="none" stroke="#111" stroke-width="1.60" stroke-linejoin="miter"/>
<line x1="66.40" y1="267.96" x2="90.20" y2="267.96" stroke="#5a88b8" stroke-width="1.70"/>
<line x1="95.90" y1="262.86" x2="95.90" y2="273.96" stroke="#0a0a0a" stroke-width="1.45"/>
<text x="97.80" y="273.36" font-family='"Liberation Serif", serif' font-size="15.50" text-anchor="start" fill="#000" stroke="#000" stroke-width="0.45" >3,</text>
<text x="112.00" y="273.36" font-family='"Liberation Serif", serif' font-size="15.50" text-anchor="start" fill="#000" stroke="#000" stroke-width="0.45" >3</text>
<polyline points="120.30,262.56 125.80,268.46 120.30,274.36" fill="none" stroke="#111" stroke-width="1.60" stroke-linejoin="miter"/>
<line x1="66.40" y1="284.09" x2="90.20" y2="284.09" stroke="#d6711f" stroke-width="1.70"/>
<line x1="95.90" y1="278.99" x2="95.90" y2="290.09" stroke="#0a0a0a" stroke-width="1.45"/>
<text x="97.80" y="289.49" font-family='"Liberation Serif", serif' font-size="15.50" text-anchor="start" fill="#000" stroke="#000" stroke-width="0.45" >3,</text>
<text x="112.00" y="289.49" font-family='"Liberation Serif", serif' font-size="15.50" text-anchor="start" fill="#000" stroke="#000" stroke-width="0.45" >2</text>
<polyline points="120.30,278.69 125.80,284.59 120.30,290.49" fill="none" stroke="#111" stroke-width="1.60" stroke-linejoin="miter"/>
<line x1="66.40" y1="300.22" x2="90.20" y2="300.22" stroke="#520f0f" stroke-width="1.70"/>
<line x1="95.90" y1="295.12" x2="95.90" y2="306.22" stroke="#0a0a0a" stroke-width="1.45"/>
<text x="97.80" y="305.62" font-family='"Liberation Serif", serif' font-size="15.50" text-anchor="start" fill="#000" stroke="#000" stroke-width="0.45" >3,</text>
<text x="112.00" y="305.62" font-family='"Liberation Serif", serif' font-size="15.50" text-anchor="start" fill="#000" stroke="#000" stroke-width="0.45" >1</text>
<polyline points="120.30,294.82 125.80,300.72 120.30,306.62" fill="none" stroke="#111" stroke-width="1.60" stroke-linejoin="miter"/>
<line x1="66.40" y1="316.35" x2="90.20" y2="316.35" stroke="#1e0c6e" stroke-width="1.70"/>
<line x1="95.90" y1="311.25" x2="95.90" y2="322.35" stroke="#0a0a0a" stroke-width="1.45"/>
<text x="97.80" y="321.75" font-family='"Liberation Serif", serif' font-size="15.50" text-anchor="start" fill="#000" stroke="#000" stroke-width="0.45" >1,</text>
<text x="112.00" y="321.75" font-family='"Liberation Serif", serif' font-size="15.50" text-anchor="start" fill="#000" stroke="#000" stroke-width="0.45" >1</text>
<polyline points="120.30,310.95 125.80,316.85 120.30,322.75" fill="none" stroke="#111" stroke-width="1.60" stroke-linejoin="miter"/>
<line x1="265.00" y1="432.00" x2="265.00" y2="345.00" stroke="#0a0a0a" stroke-width="1.50"/>
<path d="M265.00,337.5 L269.80,349.7 L265.00,347.0 L260.20,349.7 Z" fill="#111"/>
<line x1="260.00" y1="428.60" x2="265.00" y2="428.60" stroke="#0a0a0a" stroke-width="1.30"/>
<text x="257.50" y="434.40" font-family='"Liberation Serif", serif' font-size="15.80" text-anchor="end" fill="#000" stroke="#000" stroke-width="0.22" >0</text>
<line x1="260.00" y1="410.45" x2="265.00" y2="410.45" stroke="#0a0a0a" stroke-width="1.30"/>
<text x="257.50" y="416.25" font-family='"Liberation Serif", serif' font-size="15.80" text-anchor="end" fill="#000" stroke="#000" stroke-width="0.22" >0.25</text>
<line x1="260.00" y1="392.30" x2="265.00" y2="392.30" stroke="#0a0a0a" stroke-width="1.30"/>
<text x="257.50" y="398.10" font-family='"Liberation Serif", serif' font-size="15.80" text-anchor="end" fill="#000" stroke="#000" stroke-width="0.22" >0.5</text>
<line x1="260.00" y1="374.15" x2="265.00" y2="374.15" stroke="#0a0a0a" stroke-width="1.30"/>
<text x="257.50" y="379.95" font-family='"Liberation Serif", serif' font-size="15.80" text-anchor="end" fill="#000" stroke="#000" stroke-width="0.22" >0.75</text>
<line x1="260.00" y1="356.00" x2="265.00" y2="356.00" stroke="#0a0a0a" stroke-width="1.30"/>
<text x="257.50" y="361.80" font-family='"Liberation Serif", serif' font-size="15.80" text-anchor="end" fill="#000" stroke="#000" stroke-width="0.22" >1</text>
<text x="217.90" y="397.80" font-family='"Liberation Serif", serif' font-size="19.50" text-anchor="middle" fill="#000" stroke="#000" stroke-width="0.22" textLength="10.3" lengthAdjust="spacingAndGlyphs">&#954;</text>
<rect x="270.10" y="356.00" width="5.8" height="72.00" fill="#6e6e72"/>
<rect x="281.62" y="409.36" width="5.8" height="18.64" fill="#63a226"/>
<rect x="293.14" y="348.23" width="5.8" height="79.77" fill="#5a88b8"/>
<rect x="304.66" y="421.34" width="5.8" height="6.66" fill="#d6711f"/>
<rect x="316.18" y="381.05" width="5.8" height="46.95" fill="#520f0f"/>
<rect x="327.70" y="415.02" width="5.8" height="12.98" fill="#1e0c6e"/>
</svg>
</body></html>
